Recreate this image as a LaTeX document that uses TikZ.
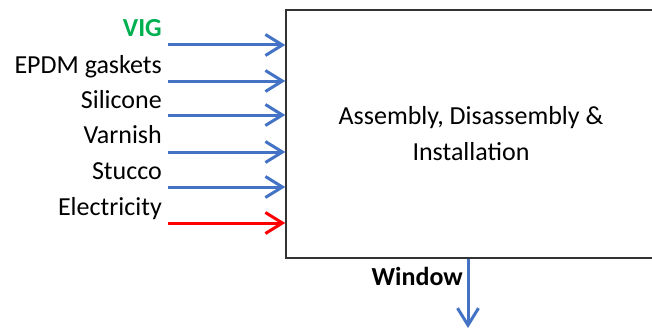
\documentclass[tikz,border=0pt]{standalone}
\usepackage{fontspec}
\setmainfont{Carlito}
\usetikzlibrary{arrows.meta}
\definecolor{flowblue}{RGB}{68,114,196}
\definecolor{flowred}{RGB}{255,0,0}
\definecolor{viggreen}{RGB}{0,176,80}
\tikzset{
  x=1pt, y=1pt,
  txt/.style={font=\fontsize{26}{36}\selectfont, inner sep=0pt},
  inlabel/.style={txt, anchor=base east},
  flow/.style={line width=3pt, -{Straight Barb[length=17pt,width=21pt,line width=3pt]}},
  blueflow/.style={flow, draw=flowblue},
  redflow/.style={flow, draw=flowred},
  processbox/.style={draw=black!80, line width=1.5pt, minimum width=370pt,
    minimum height=248pt, align=center, txt}
}
\begin{document}
\begin{tikzpicture}
  \useasboundingbox (0,0) rectangle (652,-329);
  \clip (0,0) rectangle (652,-329);

  % process box (its right side runs past the edge)
  \node[processbox] (box) at (471,-134) {Assembly, Disassembly \&\\Installation};

  % input labels
  \node[inlabel, text=viggreen, font=\fontsize{26}{36}\selectfont\bfseries] (lvig) at (162,-37) {VIG};
  \node[inlabel] (lepdm) at (162,-73) {EPDM gaskets};
  \node[inlabel] (lsil) at (162,-108) {Silicone};
  \node[inlabel] (lvar) at (162,-143) {Varnish};
  \node[inlabel] (lstu) at (162,-179) {Stucco};
  \node[inlabel] (lele) at (162,-215) {Electricity};

  % input arrows
  \coordinate (s1) at (168,-45);
  \coordinate (s2) at (168,-81);
  \coordinate (s3) at (168,-115);
  \coordinate (s4) at (168,-152);
  \coordinate (s5) at (168,-187);
  \coordinate (s6) at (168,-223);
  \draw[blueflow] (s1) -- (s1 -| box.west);
  \draw[blueflow] (s2) -- (s2 -| box.west);
  \draw[blueflow] (s3) -- (s3 -| box.west);
  \draw[blueflow] (s4) -- (s4 -| box.west);
  \draw[blueflow] (s5) -- (s5 -| box.west);
  \draw[redflow] (s6) -- (s6 -| box.west);

  % output
  \coordinate (wtop) at (468,0 |- box.south);
  \coordinate (wend) at (468,-328);
  \draw[blueflow] (wtop) -- (wend);
  \node[inlabel, font=\fontsize{26}{36}\selectfont\bfseries] (lwin) at (463,-285) {Window};
\end{tikzpicture}
\end{document}
